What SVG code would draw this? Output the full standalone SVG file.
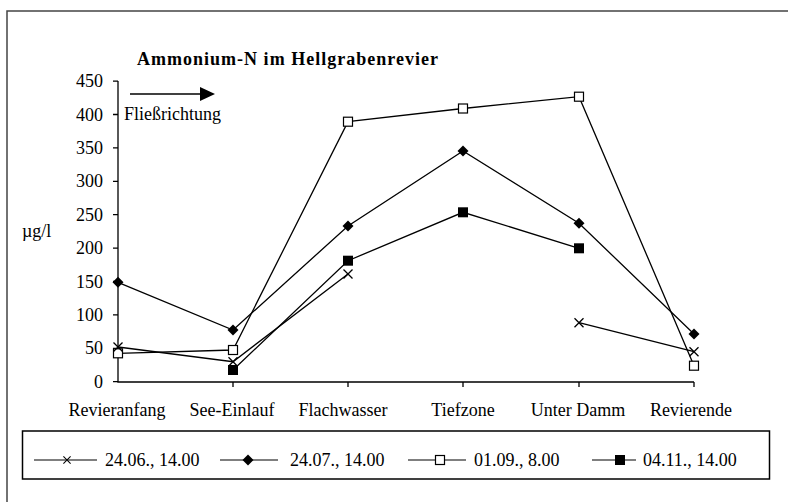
<svg xmlns="http://www.w3.org/2000/svg" width="788" height="502" viewBox="0 0 788 502">
<style>
text{font-family:"Liberation Serif","Times New Roman",serif;font-size:18px;fill:#000}
.tl{text-anchor:end}
.xl{text-anchor:middle}
.ax{stroke:#000;stroke-width:1.3;fill:none}
.s{stroke:#000;stroke-width:1.3;fill:none}
</style>
<defs>
<g id="mx"><path d="M-4.5,-4.5L4.5,4.5M-4.5,4.5L4.5,-4.5" stroke="#000" stroke-width="1.3" fill="none"/></g>
<g id="md"><path d="M0,-5.5L5.5,0L0,5.5L-5.5,0Z" fill="#000"/></g>
<g id="mo"><rect x="-4.5" y="-4.5" width="9" height="9" fill="#fff" stroke="#000" stroke-width="1.2"/></g>
<g id="mf"><rect x="-5" y="-5" width="10" height="10" fill="#000"/></g>
</defs>
<rect x="7" y="11" width="800" height="500" fill="none" stroke="#444" stroke-width="1.5"/>
<g id="title"><text x="137" y="65" font-weight="bold" font-size="19" textLength="301">Ammonium-N im Hellgrabenrevier</text></g>
<g id="flow">
<line x1="130" y1="94" x2="202" y2="94" stroke="#000" stroke-width="1.5"/>
<path d="M200,87L215,94L200,101Z" fill="#000"/>
<text x="124" y="120">Fließrichtung</text>
</g>
<g id="axes">
<path class="ax" d="M118,81V382H694"/>
<path class="ax" d="M113,81.1H118M113,114.5H118M113,147.9H118M113,181.3H118M113,214.7H118M113,248.1H118M113,281.5H118M113,314.9H118M113,348.3H118M113,381.7H118"/>
<path class="ax" d="M233,382V387M348,382V387M463,382V387M579,382V387M694,382V387"/>
<text class="tl" x="103" y="87">450</text>
<text class="tl" x="103" y="120.5">400</text>
<text class="tl" x="103" y="154">350</text>
<text class="tl" x="103" y="187.3">300</text>
<text class="tl" x="103" y="220.7">250</text>
<text class="tl" x="103" y="254">200</text>
<text class="tl" x="103" y="287.5">150</text>
<text class="tl" x="103" y="321">100</text>
<text class="tl" x="103" y="354.3">50</text>
<text class="tl" x="103" y="387.7">0</text>
<text x="22" y="237">µg/l</text>
<text class="xl" x="117" y="416">Revieranfang</text>
<text class="xl" x="232" y="416">See-Einlauf</text>
<text class="xl" x="343" y="416">Flachwasser</text>
<text class="xl" x="463" y="416">Tiefzone</text>
<text class="xl" x="578" y="416">Unter Damm</text>
<text class="xl" x="691" y="416">Revierende</text>
</g>
<g id="connectors">
<polyline class="s" points="118,347 233,361.7 348,274"/>
<polyline class="s" points="579,322.7 694,351.7"/>
<polyline class="s" points="118,282.3 233,330 348,226 463,151 579,223.3 694,334"/>
<polyline class="s" points="118,353.3 233,350 348,121.7 463,108.5 579,96.7 694,365.7"/>
<polyline class="s" points="233,370 348,260.7 463,212.3 579,248.3"/>
</g>
<g id="series-2407">
<use href="#md" x="118" y="282.3"/><use href="#md" x="233" y="330"/><use href="#md" x="348" y="226"/><use href="#md" x="463" y="151"/><use href="#md" x="579" y="223.3"/><use href="#md" x="694" y="334"/>
</g>
<g id="series-0109">
<use href="#mo" x="118" y="353.3"/><use href="#mo" x="233" y="350"/><use href="#mo" x="348" y="121.7"/><use href="#mo" x="463" y="108.5"/><use href="#mo" x="579" y="96.7"/><use href="#mo" x="694" y="365.7"/>
</g>
<g id="series-0411">
<use href="#mf" x="233" y="370"/><use href="#mf" x="348" y="260.7"/><use href="#mf" x="463" y="212.3"/><use href="#mf" x="579" y="248.3"/>
</g>
<g id="series-2406">
<use href="#mx" x="118" y="347"/><use href="#mx" x="233" y="361.7"/><use href="#mx" x="348" y="274"/><use href="#mx" x="579" y="322.7"/><use href="#mx" x="694" y="351.7"/>
</g>
<g id="legend">
<rect x="22.5" y="431" width="747" height="48" fill="none" stroke="#000" stroke-width="1.5"/>
<line x1="34" y1="460" x2="97" y2="460" stroke="#000" stroke-width="1.2"/><use href="#mx" x="67" y="460" transform="translate(67,460) scale(0.8) translate(-67,-460)"/>
<text x="105" y="466">24.06., 14.00</text>
<line x1="220" y1="460" x2="278" y2="460" stroke="#000" stroke-width="1.2"/><use href="#md" x="248" y="460"/>
<text x="290" y="466">24.07., 14.00</text>
<line x1="408" y1="460" x2="466" y2="460" stroke="#000" stroke-width="1.2"/><use href="#mo" x="440" y="460"/>
<text x="474" y="466">01.09., 8.00</text>
<line x1="592" y1="460" x2="636" y2="460" stroke="#000" stroke-width="1.2"/><use href="#mf" x="620" y="460"/>
<text x="643" y="466">04.11., 14.00</text>
</g>
</svg>
